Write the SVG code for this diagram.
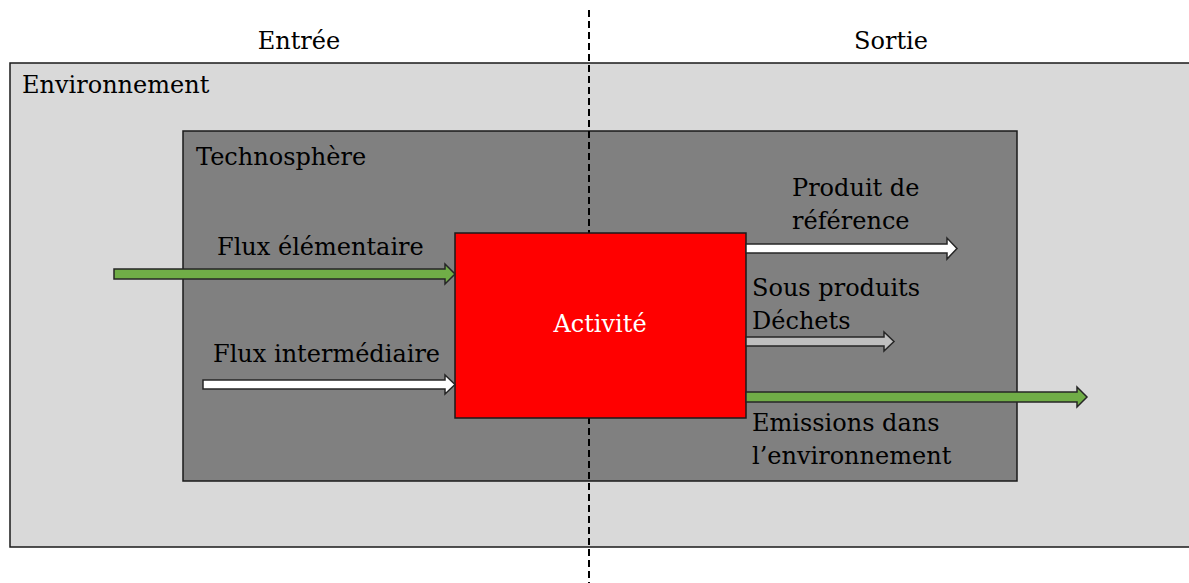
<svg xmlns="http://www.w3.org/2000/svg" width="1189" height="583" viewBox="0 0 1189 583">
<style>
text{font-family:"DejaVu Serif","Liberation Serif",serif;font-size:24px;fill:#000}
.box{stroke:#1a1a1a;stroke-width:1.5}
.arr{stroke:#262626;stroke-width:1.5;stroke-linejoin:miter}
.green{fill:#70ad47}
.white{fill:#ffffff}
.gray{fill:#bfbfbf}
</style>
<g id="environnement">
<rect class="box" x="10" y="63" width="1195" height="484" fill="#d9d9d9"/>
<text x="22" y="93">Environnement</text>
</g>
<g id="technosphere">
<rect class="box" x="183" y="131" width="834" height="350" fill="#808080"/>
<text x="196" y="165">Technosphère</text>
</g>
<g id="separateur">
<line x1="589" y1="10" x2="589" y2="583" stroke="#000" stroke-width="2" stroke-dasharray="7 4"/>
<text x="299" y="49" text-anchor="middle">Entrée</text>
<text x="891" y="49" text-anchor="middle">Sortie</text>
</g>
<g id="activite">
<rect class="box" x="455" y="233" width="291" height="185" fill="#ff0000"/>
<text x="600" y="332" text-anchor="middle" style="fill:#fff">Activité</text>
</g>
<g id="connectors">
<path class="arr green" d="M114 269 H445 V264 L455 274 L445 284 V279 H114 Z"/>
<path class="arr white" d="M203 380 H445 V375 L455 384.5 L445 394 V389 H203 Z"/>
<path class="arr white" d="M746 244 H947 V238 L957 248.5 L947 259 V253 H746 Z"/>
<path class="arr gray" d="M746 337 H884 V332 L894 341.5 L884 351 V346 H746 Z"/>
<path class="arr green" d="M746 392 H1077 V387 L1087 397 L1077 407 V402 H746 Z"/>
</g>
<g id="labels">
<text x="217" y="255">Flux élémentaire</text>
<text x="213" y="362">Flux intermédiaire</text>
<text x="792" y="196">Produit de</text>
<text x="792" y="229">référence</text>
<text x="752" y="296">Sous produits</text>
<text x="752" y="329">Déchets</text>
<text x="752" y="431">Emissions dans</text>
<text x="752" y="464">l’environnement</text>
</g>
</svg>
